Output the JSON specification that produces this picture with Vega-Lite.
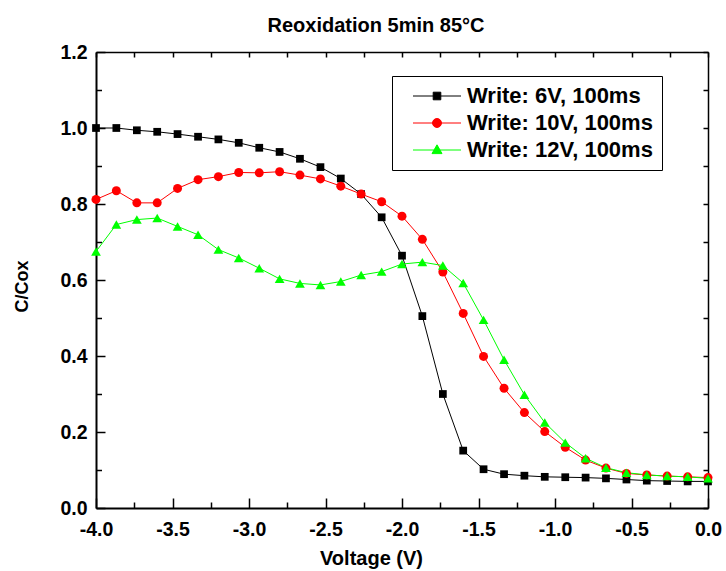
{
 "$schema": "https://vega.github.io/schema/vega-lite/v6.json",
 "width": 612, "height": 456,
 "autosize": {"type": "none"},
 "padding": {"left": 96, "top": 52, "right": 18, "bottom": 63},
 "title": {"text": "Reoxidation 5min 85°C", "font": "Liberation Sans", "fontSize": 20, "fontWeight": "bold", "color": "#000", "anchor": "middle", "frame": "group", "dx": -26, "dy": 30, "baseline": "alphabetic", "offset": 20},
 "config": {"font": "Liberation Sans", "view": {"stroke": null}, "locale": {"number": {"decimal": ".", "thousands": ",", "grouping": [3], "currency": ["$", ""], "minus": "-"}}},
 "data": {"values": [
  {"v": -4.0, "c": 1.0, "s": "Write: 6V, 100ms"},
  {"v": -3.867, "c": 1.0, "s": "Write: 6V, 100ms"},
  {"v": -3.733, "c": 0.994, "s": "Write: 6V, 100ms"},
  {"v": -3.6, "c": 0.990, "s": "Write: 6V, 100ms"},
  {"v": -3.467, "c": 0.984, "s": "Write: 6V, 100ms"},
  {"v": -3.333, "c": 0.977, "s": "Write: 6V, 100ms"},
  {"v": -3.2, "c": 0.970, "s": "Write: 6V, 100ms"},
  {"v": -3.067, "c": 0.961, "s": "Write: 6V, 100ms"},
  {"v": -2.933, "c": 0.948, "s": "Write: 6V, 100ms"},
  {"v": -2.8, "c": 0.937, "s": "Write: 6V, 100ms"},
  {"v": -2.667, "c": 0.919, "s": "Write: 6V, 100ms"},
  {"v": -2.533, "c": 0.897, "s": "Write: 6V, 100ms"},
  {"v": -2.4, "c": 0.867, "s": "Write: 6V, 100ms"},
  {"v": -2.267, "c": 0.826, "s": "Write: 6V, 100ms"},
  {"v": -2.133, "c": 0.765, "s": "Write: 6V, 100ms"},
  {"v": -2.0, "c": 0.664, "s": "Write: 6V, 100ms"},
  {"v": -1.867, "c": 0.505, "s": "Write: 6V, 100ms"},
  {"v": -1.733, "c": 0.300, "s": "Write: 6V, 100ms"},
  {"v": -1.6, "c": 0.151, "s": "Write: 6V, 100ms"},
  {"v": -1.467, "c": 0.102, "s": "Write: 6V, 100ms"},
  {"v": -1.333, "c": 0.089, "s": "Write: 6V, 100ms"},
  {"v": -1.2, "c": 0.085, "s": "Write: 6V, 100ms"},
  {"v": -1.067, "c": 0.082, "s": "Write: 6V, 100ms"},
  {"v": -0.933, "c": 0.081, "s": "Write: 6V, 100ms"},
  {"v": -0.8, "c": 0.080, "s": "Write: 6V, 100ms"},
  {"v": -0.667, "c": 0.078, "s": "Write: 6V, 100ms"},
  {"v": -0.533, "c": 0.075, "s": "Write: 6V, 100ms"},
  {"v": -0.4, "c": 0.072, "s": "Write: 6V, 100ms"},
  {"v": -0.267, "c": 0.071, "s": "Write: 6V, 100ms"},
  {"v": -0.133, "c": 0.070, "s": "Write: 6V, 100ms"},
  {"v": 0.0, "c": 0.070, "s": "Write: 6V, 100ms"},
  {"v": -4.0, "c": 0.812, "s": "Write: 10V, 100ms"},
  {"v": -3.867, "c": 0.835, "s": "Write: 10V, 100ms"},
  {"v": -3.733, "c": 0.803, "s": "Write: 10V, 100ms"},
  {"v": -3.6, "c": 0.803, "s": "Write: 10V, 100ms"},
  {"v": -3.467, "c": 0.841, "s": "Write: 10V, 100ms"},
  {"v": -3.333, "c": 0.864, "s": "Write: 10V, 100ms"},
  {"v": -3.2, "c": 0.872, "s": "Write: 10V, 100ms"},
  {"v": -3.067, "c": 0.883, "s": "Write: 10V, 100ms"},
  {"v": -2.933, "c": 0.882, "s": "Write: 10V, 100ms"},
  {"v": -2.8, "c": 0.885, "s": "Write: 10V, 100ms"},
  {"v": -2.667, "c": 0.876, "s": "Write: 10V, 100ms"},
  {"v": -2.533, "c": 0.866, "s": "Write: 10V, 100ms"},
  {"v": -2.4, "c": 0.847, "s": "Write: 10V, 100ms"},
  {"v": -2.267, "c": 0.826, "s": "Write: 10V, 100ms"},
  {"v": -2.133, "c": 0.806, "s": "Write: 10V, 100ms"},
  {"v": -2.0, "c": 0.768, "s": "Write: 10V, 100ms"},
  {"v": -1.867, "c": 0.707, "s": "Write: 10V, 100ms"},
  {"v": -1.733, "c": 0.621, "s": "Write: 10V, 100ms"},
  {"v": -1.6, "c": 0.512, "s": "Write: 10V, 100ms"},
  {"v": -1.467, "c": 0.399, "s": "Write: 10V, 100ms"},
  {"v": -1.333, "c": 0.315, "s": "Write: 10V, 100ms"},
  {"v": -1.2, "c": 0.251, "s": "Write: 10V, 100ms"},
  {"v": -1.067, "c": 0.201, "s": "Write: 10V, 100ms"},
  {"v": -0.933, "c": 0.160, "s": "Write: 10V, 100ms"},
  {"v": -0.8, "c": 0.126, "s": "Write: 10V, 100ms"},
  {"v": -0.667, "c": 0.105, "s": "Write: 10V, 100ms"},
  {"v": -0.533, "c": 0.091, "s": "Write: 10V, 100ms"},
  {"v": -0.4, "c": 0.087, "s": "Write: 10V, 100ms"},
  {"v": -0.267, "c": 0.084, "s": "Write: 10V, 100ms"},
  {"v": -0.133, "c": 0.082, "s": "Write: 10V, 100ms"},
  {"v": 0.0, "c": 0.080, "s": "Write: 10V, 100ms"},
  {"v": -4.0, "c": 0.675, "s": "Write: 12V, 100ms"},
  {"v": -3.867, "c": 0.746, "s": "Write: 12V, 100ms"},
  {"v": -3.733, "c": 0.759, "s": "Write: 12V, 100ms"},
  {"v": -3.6, "c": 0.763, "s": "Write: 12V, 100ms"},
  {"v": -3.467, "c": 0.741, "s": "Write: 12V, 100ms"},
  {"v": -3.333, "c": 0.719, "s": "Write: 12V, 100ms"},
  {"v": -3.2, "c": 0.680, "s": "Write: 12V, 100ms"},
  {"v": -3.067, "c": 0.658, "s": "Write: 12V, 100ms"},
  {"v": -2.933, "c": 0.631, "s": "Write: 12V, 100ms"},
  {"v": -2.8, "c": 0.603, "s": "Write: 12V, 100ms"},
  {"v": -2.667, "c": 0.591, "s": "Write: 12V, 100ms"},
  {"v": -2.533, "c": 0.587, "s": "Write: 12V, 100ms"},
  {"v": -2.4, "c": 0.596, "s": "Write: 12V, 100ms"},
  {"v": -2.267, "c": 0.613, "s": "Write: 12V, 100ms"},
  {"v": -2.133, "c": 0.622, "s": "Write: 12V, 100ms"},
  {"v": -2.0, "c": 0.642, "s": "Write: 12V, 100ms"},
  {"v": -1.867, "c": 0.647, "s": "Write: 12V, 100ms"},
  {"v": -1.733, "c": 0.638, "s": "Write: 12V, 100ms"},
  {"v": -1.6, "c": 0.592, "s": "Write: 12V, 100ms"},
  {"v": -1.467, "c": 0.495, "s": "Write: 12V, 100ms"},
  {"v": -1.333, "c": 0.390, "s": "Write: 12V, 100ms"},
  {"v": -1.2, "c": 0.298, "s": "Write: 12V, 100ms"},
  {"v": -1.067, "c": 0.225, "s": "Write: 12V, 100ms"},
  {"v": -0.933, "c": 0.172, "s": "Write: 12V, 100ms"},
  {"v": -0.8, "c": 0.131, "s": "Write: 12V, 100ms"},
  {"v": -0.667, "c": 0.106, "s": "Write: 12V, 100ms"},
  {"v": -0.533, "c": 0.093, "s": "Write: 12V, 100ms"},
  {"v": -0.4, "c": 0.087, "s": "Write: 12V, 100ms"},
  {"v": -0.267, "c": 0.084, "s": "Write: 12V, 100ms"},
  {"v": -0.133, "c": 0.082, "s": "Write: 12V, 100ms"},
  {"v": 0.0, "c": 0.078, "s": "Write: 12V, 100ms"}
 ]},
 "layer": [
  {
   "mark": {"type": "line", "strokeWidth": 1},
   "encoding": {
    "x": {"field": "v", "type": "quantitative", "scale": {"domain": [-4, 0], "nice": false, "zero": false},
     "axis": {"orient": "bottom", "values": [-4, -3.75, -3.5, -3.25, -3, -2.75, -2.5, -2.25, -2, -1.75, -1.5, -1.25, -1, -0.75, -0.5, -0.25, 0],
      "labelExpr": "abs(datum.value*2 - round(datum.value*2)) < 0.001 ? replace(format(datum.value, '.1f'), '−', '-') : ''",
      "tickSize": {"condition": {"test": "abs(datum.value*2 - round(datum.value*2)) < 0.001", "value": -10}, "value": -6},
      "tickWidth": 1.5, "tickColor": "#000", "domainColor": "#000", "domainWidth": 2, "grid": false,
      "labelFont": "Liberation Sans", "labelFontSize": 19.5, "labelFontWeight": "bold", "labelColor": "#000", "labelPadding": 22, "labelFlush": false, "labelOverlap": false,
      "title": "Voltage (V)", "titleFont": "Liberation Sans", "titleFontSize": 20, "titleFontWeight": "bold", "titleColor": "#000", "titleX": 275, "titleY": 56, "titleBaseline": "alphabetic", "titleAlign": "center"}},
    "y": {"field": "c", "type": "quantitative", "scale": {"domain": [0, 1.2], "nice": false, "zero": false},
     "axis": {"orient": "left", "values": [0, 0.1, 0.2, 0.3, 0.4, 0.5, 0.6, 0.7, 0.8, 0.9, 1.0, 1.1, 1.2],
      "labelExpr": "abs(datum.value*5 - round(datum.value*5)) < 0.001 ? format(datum.value, '.1f') : ''",
      "tickSize": {"condition": {"test": "abs(datum.value*5 - round(datum.value*5)) < 0.001", "value": -9}, "value": -5.5},
      "tickWidth": 1.5, "tickColor": "#000", "domainColor": "#000", "domainWidth": 2, "grid": false,
      "labelFont": "Liberation Sans", "labelFontSize": 19.5, "labelFontWeight": "bold", "labelColor": "#000", "labelPadding": 18, "labelFlush": false, "labelOverlap": false,
      "title": "C/Cox", "titleFont": "Liberation Sans", "titleFontSize": 18, "titleFontWeight": "bold", "titleColor": "#000", "titleX": -74, "titleY": 234, "titleBaseline": "middle", "titleAlign": "center", "titleAngle": -90}},
    "color": {"field": "s", "type": "nominal", "scale": {"domain": ["Write: 6V, 100ms", "Write: 10V, 100ms", "Write: 12V, 100ms"], "range": ["#000000", "#ff0000", "#00ff00"]}, "legend": null}
   }
  },
  {
   "mark": {"type": "point", "filled": true, "opacity": 1},
   "encoding": {
    "x": {"field": "v", "type": "quantitative", "scale": {"domain": [-4, 0], "nice": false, "zero": false},
     "axis": {"orient": "top", "values": [-4, -3.75, -3.5, -3.25, -3, -2.75, -2.5, -2.25, -2, -1.75, -1.5, -1.25, -1, -0.75, -0.5, -0.25, 0], "labels": false, "title": null, "tickSize": -5, "tickWidth": 1.5, "tickColor": "#000", "domainColor": "#000", "domainWidth": 1.5, "grid": false}},
    "y": {"field": "c", "type": "quantitative", "scale": {"domain": [0, 1.2], "nice": false, "zero": false},
     "axis": {"orient": "right", "values": [0, 0.1, 0.2, 0.3, 0.4, 0.5, 0.6, 0.7, 0.8, 0.9, 1.0, 1.1, 1.2], "labels": false, "title": null, "tickSize": -5, "tickWidth": 1.5, "tickColor": "#000", "domainColor": "#000", "domainWidth": 1.5, "grid": false}},
    "color": {"field": "s", "type": "nominal", "scale": {"domain": ["Write: 6V, 100ms", "Write: 10V, 100ms", "Write: 12V, 100ms"], "range": ["#000000", "#ff0000", "#00ff00"]}, "legend": null},
    "shape": {"field": "s", "type": "nominal", "scale": {"domain": ["Write: 6V, 100ms", "Write: 10V, 100ms", "Write: 12V, 100ms"], "range": ["square", "circle", "triangle-up"]}, "legend": null},
    "size": {"field": "s", "type": "nominal", "scale": {"type": "ordinal", "domain": ["Write: 6V, 100ms", "Write: 10V, 100ms", "Write: 12V, 100ms"], "range": [60, 81, 95]}, "legend": null}
   }
  },
  {
   "transform": [{"filter": "false"}],
   "mark": {"type": "point", "filled": true, "opacity": 1},
   "encoding": {
    "color": {"field": "s", "type": "nominal",
     "scale": {"domain": ["Write: 6V, 100ms", "Write: 10V, 100ms", "Write: 12V, 100ms"], "range": ["#000000", "#ff0000", "#00ff00"]},
     "legend": {"title": null, "orient": "none", "legendX": 296, "legendY": 24, "padding": 9, "rowPadding": 5,
      "strokeColor": "#000", "fillColor": "#fff", "cornerRadius": 0,
      "symbolSize": 64, "symbolOffset": 25, "labelOffset": 19, "symbolStrokeWidth": 1, "symbolOpacity": 1,
      "symbolType": {"expr": "datum.value == 'Write: 6V, 100ms' ? 'M-6,0H6M-0.95,-0.95H0.95V0.95H-0.95Z' : datum.value == 'Write: 10V, 100ms' ? 'M-6,0H6M1.12,0A1.12,1.12,0,1,1,-1.12,0A1.12,1.12,0,1,1,1.12,0Z' : 'M-6,0H6M0,-1.3L1.25,0.9L-1.25,0.9Z'"},
      "symbolStrokeColor": {"expr": "datum.value == 'Write: 6V, 100ms' ? '#000000' : datum.value == 'Write: 10V, 100ms' ? '#ff0000' : '#00ff00'"},
      "labelFont": "Liberation Sans", "labelFontSize": 22, "labelFontWeight": "bold", "labelColor": "#000", "labelLimit": 500,
      "labelExpr": "datum.label + '\u00a0\u00a0\u00a0\u00a0\u00a0'"}}
   }
  }
 ],
 "resolve": {"scale": {"x": "independent", "y": "independent", "color": "independent"}, "axis": {"x": "independent", "y": "independent"}}
}
